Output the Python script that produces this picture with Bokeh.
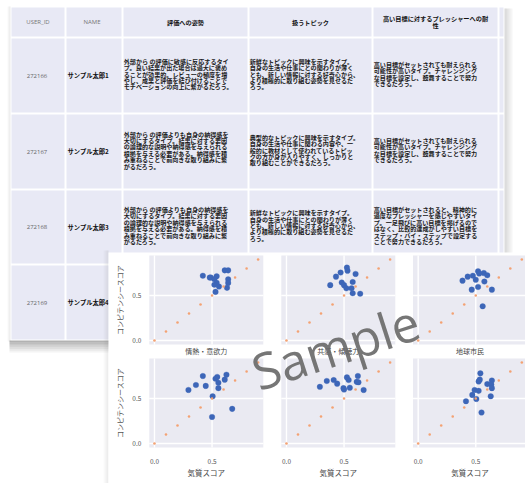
import numpy as np
from bokeh.plotting import figure
from bokeh.models import Range1d
from bokeh.core.properties import value
from bokeh.embed import file_html
from bokeh.resources import INLINE

# ---------------- data ----------------
user_ids = ["272166", "272167", "272168", "272169"]
names = ["サンプル太郎1", "サンプル太郎2", "サンプル太郎3", "サンプル太郎4"]
headers = ["USER_ID", "NAME", "評価への姿勢", "扱うトピック", "高い目標に対するプレッシャーへの耐\n性"]

eval_a = ["外部から の評価に敏感に反応するタイ", "プ。良い結果が出た場合は過大に褒め",
          "ることが効果的。レビューの頻度を増", "やし、成果と評価を結び付けることで",
          "モチベーションの向上に繋がるだろう。"]
eval_b = ["外部から の評価よりも自身の納得感を", "大切にするタイプ。結果に対する要因",
          "の論理的な説明や納得感を与えられる", "根拠を与える必要がある。納得感を積",
          "み重ねることで前向きな取り組みに繋", "がるだろう。"]
topic_a = ["新鮮なトピックに興味を示すタイプ。", "自身の生活や仕事にとの関わりが薄く",
           "とも、新しい情報に対する好奇心から、", "より積極的に取り組む姿勢を見せるだ", "ろう。"]
topic_b = ["典型的なトピックに興味を示すタイプ。", "自身の生活や仕事に関わる内容や、一",
           "般的に教材として使われているトピッ", "クの方が身が入りやすく、しっかりと",
           "取り組むことができるだろう。"]
goal_a = ["高い目標がセットされても耐えられる", "可能性が高いタイプ。チャレンジング",
          "な目標を設定し、鼓舞することで努力", "できるだろう。"]
goal_b = ["高い目標がセットされると、精神的に", "過度なプレッシャーを感じやすいタイ",
          "プ。一足飛びに高い目標を掲げるので", "はなく、比較的達成がしやすい目標を",
          "ステップ・バイ・ステップで設定する", "ことで努力できるだろう。"]
row_texts = [[eval_a, topic_a, goal_a], [eval_b, topic_b, goal_a], [eval_b, topic_a, goal_b]]

panel_titles = ["情熱・意欲力", "共感・傾聴力", "地球市民"]
x_label = "気質スコア"
y_label = "コンピテンシースコア"
tick_vals = [0.0, 0.5]
tick_labels = ["0.0", "0.5"]
ref_x = [0.0, 0.1, 0.2, 0.3, 0.4, 0.5, 0.6, 0.7, 0.8, 0.9]
ref_y = [0.0, 0.1, 0.2, 0.3, 0.4, 0.5, 0.6, 0.7, 0.8, 0.9]

p1_x = [0.42, 0.48, 0.49, 0.54, 0.61, 0.64, 0.52, 0.54, 0.52, 0.56, 0.64, 0.64, 0.63, 0.53]
p1_y = [0.72, 0.70, 0.70, 0.715, 0.78, 0.78, 0.68, 0.64, 0.62, 0.60, 0.68, 0.64, 0.585, 0.54]
p2_x = [0.38, 0.43, 0.47, 0.525, 0.53, 0.60, 0.48, 0.50, 0.52, 0.565, 0.575, 0.575, 0.64]
p2_y = [0.615, 0.71, 0.755, 0.81, 0.775, 0.74, 0.645, 0.615, 0.58, 0.58, 0.65, 0.525, 0.52]
p3_x = [0.385, 0.43, 0.475, 0.52, 0.53, 0.57, 0.60, 0.50, 0.575, 0.465, 0.52, 0.64, 0.56]
p3_y = [0.665, 0.71, 0.72, 0.77, 0.745, 0.75, 0.725, 0.675, 0.655, 0.565, 0.595, 0.565, 0.38]
p4_x = [0.295, 0.36, 0.42, 0.445, 0.53, 0.545, 0.555, 0.555, 0.61, 0.625, 0.505, 0.675, 0.50]
p4_y = [0.595, 0.65, 0.75, 0.64, 0.72, 0.74, 0.675, 0.615, 0.71, 0.765, 0.525, 0.385, 0.295]
p5_x = [0.29, 0.35, 0.41, 0.44, 0.525, 0.54, 0.62, 0.61, 0.625, 0.495, 0.50, 0.55, 0.67]
p5_y = [0.63, 0.695, 0.705, 0.665, 0.735, 0.705, 0.75, 0.685, 0.68, 0.615, 0.60, 0.62, 0.595]
p6_x = [0.415, 0.47, 0.49, 0.505, 0.525, 0.525, 0.535, 0.54, 0.55, 0.60, 0.64, 0.635, 0.64, 0.63]
p6_y = [0.47, 0.54, 0.595, 0.495, 0.585, 0.69, 0.71, 0.78, 0.345, 0.66, 0.70, 0.655, 0.615, 0.525]
panel_x = [p1_x, p2_x, p3_x, p4_x, p5_x, p6_x]
panel_y = [p1_y, p2_y, p3_y, p4_y, p5_y, p6_y]

# ---------------- styling / layout ----------------
JP = value("Noto Sans CJK JP")
W, H = 525, 483
p = figure(width=W, height=H, x_range=Range1d(0, W), y_range=Range1d(H, 0),
           output_backend="svg", toolbar_location=None,
           x_axis_type=None, y_axis_type=None, min_border=0)
p.outline_line_color = None
p.background_fill_color = "white"
p.border_fill_color = "white"

col_edges = [10, 65, 122, 248, 372, 498, 504]
row_edges = [6, 37, 113, 189, 264, 340]
cell = "#e8e9f5"

# table shadow
for k in range(7):
    a = 0.45 * (1 - k / 7)
    p.quad(left=[9], right=[507], top=[340 + 1.7 * k], bottom=[341.7 + 1.7 * k],
           fill_color="#555555", fill_alpha=a, line_color=None)
    p.quad(left=[504 + 1.2 * k], right=[505.2 + 1.2 * k], top=[8], bottom=[340],
           fill_color="#555555", fill_alpha=a * 0.5, line_color=None)
for k in range(3):
    p.quad(left=[7 + k], right=[8 + k], top=[6], bottom=[341], fill_color="#888888",
           fill_alpha=0.06 + 0.05 * k, line_color=None)

# table cells
L, R, T, B = [], [], [], []
for i in range(len(row_edges) - 1):
    for j in range(len(col_edges) - 1):
        L.append(col_edges[j] + 1); R.append(col_edges[j + 1] - 1)
        T.append(row_edges[i] + 1); B.append(row_edges[i + 1] - 1)
p.quad(left=L, right=R, top=T, bottom=B, fill_color=cell, line_color=None)

# headers
hy = (row_edges[0] + row_edges[1]) / 2
p.text(x=[(col_edges[0] + col_edges[1]) / 2, (col_edges[1] + col_edges[2]) / 2 - 2],
       y=[hy, hy], text=headers[:2], text_font=value("Open Sans"),
       text_font_size="6px", text_color="#777777", text_align="center", text_baseline="middle")
p.text(x=[(col_edges[2] + col_edges[3]) / 2, (col_edges[3] + col_edges[4]) / 2],
       y=[hy, hy], text=headers[2:4], text_font=JP, text_font_size="6.2px",
       text_font_style="bold", text_color="#111111", text_align="center",
       text_baseline="middle")
h5 = headers[4].split("\n")
p.text(x=[(col_edges[4] + col_edges[5]) / 2] * 2, y=[hy - 3.6, hy + 3.6], text=h5,
       text_font=JP, text_font_size="6.2px", text_font_style="bold", text_color="#111111",
       text_align="center", text_baseline="middle")

# body
ls = 6.4
tx, ty, tt = [], [], []
for i in range(4):
    cy = (row_edges[i + 1] + row_edges[i + 2]) / 2
    p.text(x=[(col_edges[0] + col_edges[1]) / 2 - 1], y=[cy], text=[user_ids[i]],
           text_font=value("Open Sans"), text_font_size="6px", text_color="#666666",
           text_align="center", text_baseline="middle")
    p.text(x=[col_edges[1] + 2], y=[cy], text=[names[i]], text_font=JP,
           text_font_size="6.3px", text_font_style="bold", text_color="#111111",
           text_align="left", text_baseline="middle")
    if i < 3:
        for j, lines in enumerate(row_texts[i]):
            n = len(lines)
            for k, s in enumerate(lines):
                tx.append(col_edges[2 + j] + 1.2)
                ty.append(cy - 1.5 + (k - (n - 1) / 2) * ls)
                tt.append(s)
p.text(x=tx, y=ty, text=tt, text_font=JP, text_font_size="6.1px", text_font_style="bold",
       text_color="#1a1a1a", text_align="left", text_baseline="middle")

# scatter panel
for k in range(5):
    p.quad(left=[103 + k], right=[104 + k], top=[250], bottom=[483],
           fill_color="#777777", fill_alpha=0.03 + 0.03 * k, line_color=None)
p.quad(left=[108], right=[525], top=[252], bottom=[483], fill_color="white", line_color=None)

xlim = (-0.045, 0.945)
ylim = (-0.045, 0.945)
frame_left = [148.8, 280.8, 412.5]
frame_top = [255, 358]
fw, fh = 114, 89

for idx in range(6):
    r, c = divmod(idx, 3)
    l = frame_left[c]; t = frame_top[r]
    sub = p.subplot(x_source=Range1d(*xlim), y_source=Range1d(*ylim),
                    x_target=Range1d(l, l + fw), y_target=Range1d(t + fh, t))
    sub.quad(left=[xlim[0]], right=[xlim[1]], bottom=[ylim[0]], top=[ylim[1]],
             fill_color="#eaeaf2", line_color=None)
    sub.segment(x0=tick_vals, x1=tick_vals, y0=[ylim[0]] * 2, y1=[ylim[1]] * 2,
                line_color="white", line_width=1.4)
    sub.segment(x0=[xlim[0]] * 2, x1=[xlim[1]] * 2, y0=tick_vals, y1=tick_vals,
                line_color="white", line_width=1.4)
    sub.scatter(x=panel_x[idx], y=panel_y[idx], size=5.6, fill_color="#3d66b8",
                line_color="#3d66b8", line_width=0.3)
    sub.scatter(x=ref_x, y=ref_y, size=2.6, fill_color="#f4a273", line_color=None)
    if c == 0:
        sub.text(x=[xlim[0]] * 2, y=tick_vals, text=tick_labels, x_offset=-8,
                 text_font=JP, text_font_size="6.5px", text_color="#555555",
                 text_align="right", text_baseline="middle")
        sub.text(x=[xlim[0]], y=[(ylim[0] + ylim[1]) / 2], text=[y_label], x_offset=-29,
                 angle=90, angle_units="deg", text_font=JP, text_font_size="7px",
                 text_color="#555555", text_align="center", text_baseline="middle")
    if r == 0:
        sub.text(x=[(xlim[0] + xlim[1]) / 2], y=[ylim[0]], text=[panel_titles[c]], y_offset=6,
                 text_font=JP, text_font_size="7px", text_color="#444444",
                 text_align="center", text_baseline="middle")
    else:
        sub.text(x=tick_vals, y=[ylim[0]] * 2, text=tick_labels, y_offset=14,
                 text_font=JP, text_font_size="6.5px", text_color="#555555",
                 text_align="center", text_baseline="middle")
        sub.text(x=[(xlim[0] + xlim[1]) / 2], y=[ylim[0]], text=[x_label], y_offset=25,
                 text_font=JP, text_font_size="7.5px", text_color="#444444",
                 text_align="center", text_baseline="middle")

# watermark
p.text(x=[335], y=[346], text=["Sample"], angle=18, angle_units="deg",
       text_font=value("Open Sans"), text_font_size="50px", text_color="#6a6a6a",
       text_alpha=0.92, text_align="center", text_baseline="middle")

open("out.html", "w").write(file_html(p, INLINE))
